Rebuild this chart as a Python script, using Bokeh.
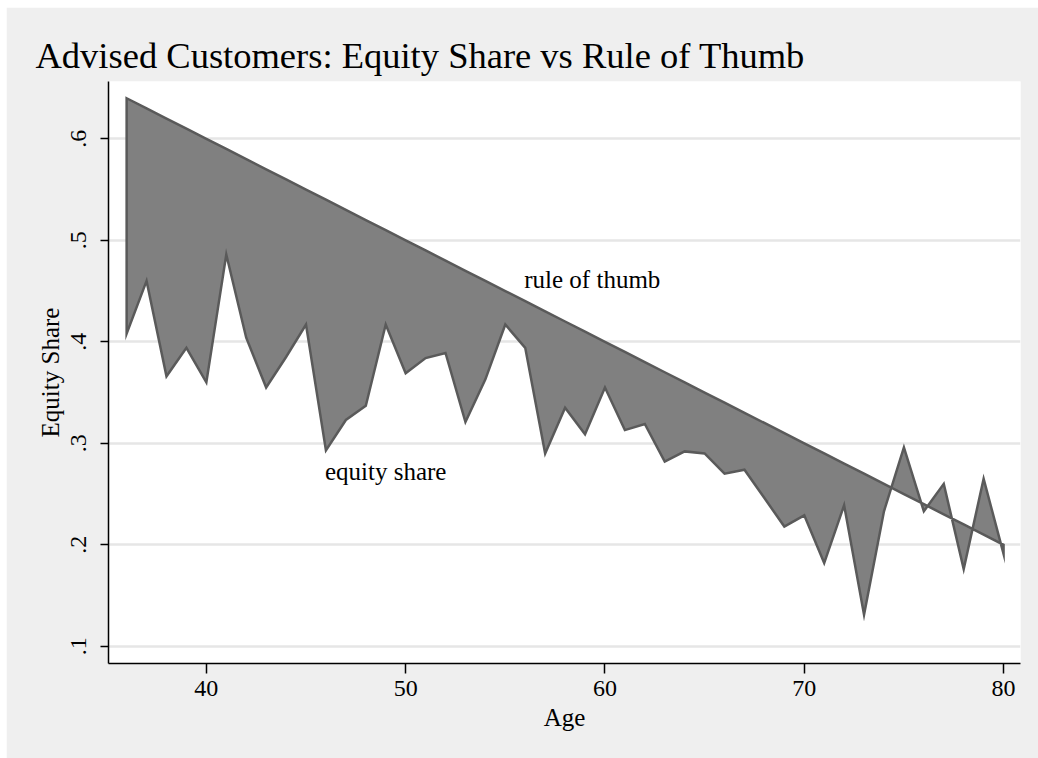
import math
from bokeh.plotting import figure
from bokeh.models import Range1d, FixedTicker, CustomJSTickFormatter, Label
from bokeh.embed import file_html
from bokeh.resources import INLINE

ages = [36, 37, 38, 39, 40, 41, 42, 43, 44, 45, 46, 47, 48, 49, 50, 51, 52, 53, 54, 55,
        56, 57, 58, 59, 60, 61, 62, 63, 64, 65, 66, 67, 68, 69, 70, 71, 72, 73, 74, 75,
        76, 77, 78, 79, 80]
rule_of_thumb = [0.64, 0.63, 0.62, 0.61, 0.60, 0.59, 0.58, 0.57, 0.56, 0.55, 0.54, 0.53,
                 0.52, 0.51, 0.50, 0.49, 0.48, 0.47, 0.46, 0.45, 0.44, 0.43, 0.42, 0.41,
                 0.40, 0.39, 0.38, 0.37, 0.36, 0.35, 0.34, 0.33, 0.32, 0.31, 0.30, 0.29,
                 0.28, 0.27, 0.26, 0.25, 0.24, 0.23, 0.22, 0.21, 0.20]
equity_share = [0.408, 0.460, 0.366, 0.394, 0.360, 0.486, 0.404, 0.355, 0.385, 0.417,
                0.293, 0.323, 0.337, 0.417, 0.369, 0.384, 0.389, 0.321, 0.363, 0.417,
                0.394, 0.290, 0.335, 0.309, 0.355, 0.313, 0.319, 0.282, 0.292, 0.290,
                0.270, 0.274, 0.246, 0.218, 0.229, 0.182, 0.239, 0.131, 0.233, 0.296,
                0.233, 0.260, 0.176, 0.265, 0.191]
x_ticks = [40, 50, 60, 70, 80]
y_ticks = [0.1, 0.2, 0.3, 0.4, 0.5, 0.6]

SERIF = "Liberation Serif"
BG = "#efefef"

p = figure(width=1032, height=751, output_backend="svg", toolbar_location=None,
           x_range=Range1d(35.09, 80.85), y_range=Range1d(0.083, 0.6565),
           min_border_left=102, min_border_right=18, min_border_top=74, min_border_bottom=95,
           background_fill_color="white", border_fill_color=BG, outline_line_color=None,
           title="Advised Customers: Equity Share vs Rule of Thumb")
p.margin = (7, 0, 0, 6)

p.title.text_font = SERIF
p.title.text_font_size = "36.5px"
p.title.text_font_style = "normal"
p.title.text_color = "black"
p.title.align = "left"
p.title.offset = -73
p.title.standoff = 11

# shaded area between rule of thumb and equity share
xs = ages + ages[::-1]
ys = rule_of_thumb + equity_share[::-1]
p.patch(xs, ys, fill_color="#808080", line_color="#5a5a5a", line_width=2.5,
        line_join="miter")

# grid
p.xgrid.visible = False
p.ygrid.ticker = FixedTicker(ticks=y_ticks)
p.ygrid.grid_line_color = "#e6e6e6"
p.ygrid.grid_line_width = 2.5

# axes
p.xaxis.ticker = FixedTicker(ticks=x_ticks)
p.yaxis.ticker = FixedTicker(ticks=y_ticks)
p.yaxis.formatter = CustomJSTickFormatter(code="return tick.toFixed(1).replace(/^0/, '');")
for ax in (p.xaxis, p.yaxis):
    ax.axis_line_color = "black"
    ax.axis_line_width = 1.5
    ax.major_tick_line_color = "black"
    ax.major_tick_line_width = 1.5
    ax.minor_tick_line_color = None
    ax.major_tick_in = 0
    ax.major_label_text_font = SERIF
    ax.major_label_text_font_size = "24px"
    ax.major_label_text_color = "black"
    ax.axis_label_text_font = SERIF
    ax.axis_label_text_font_size = "25px"
    ax.axis_label_text_font_style = "normal"
    ax.axis_label_text_color = "black"

p.xaxis.major_tick_out = 10
p.xaxis.major_label_standoff = 7
p.xaxis.axis_label = "Age"
p.xaxis.axis_label_standoff = 5

p.yaxis.major_tick_out = 8
p.yaxis.major_label_orientation = "vertical"
p.yaxis.major_label_standoff = 14
p.yaxis.axis_label = "Equity Share"
p.yaxis.axis_label_standoff = 5

p.add_layout(Label(x=55.95, y=0.4614, text="rule of thumb", text_font=SERIF,
                   text_font_size="25px", text_color="black", text_baseline="alphabetic"))
p.add_layout(Label(x=45.95, y=0.2722, text="equity share", text_font=SERIF,
                   text_font_size="25px", text_color="black", text_baseline="alphabetic"))

open("out.html", "w").write(file_html(p, INLINE))
